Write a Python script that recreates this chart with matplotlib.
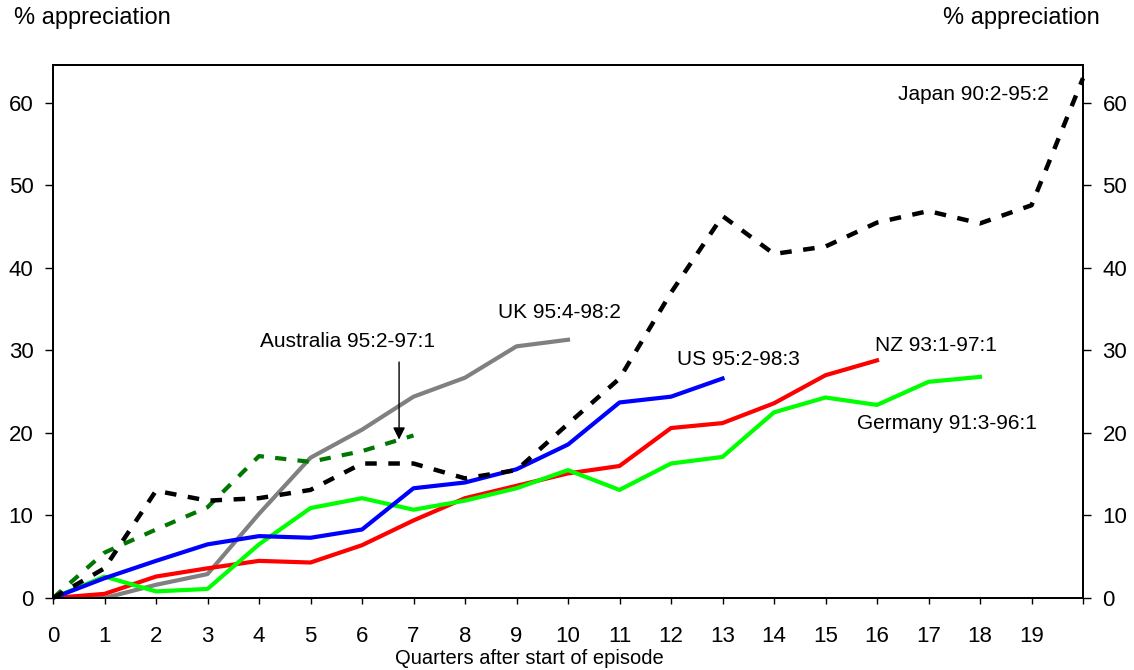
import matplotlib
matplotlib.use("Agg")
import matplotlib.pyplot as plt

plt.rcParams['font.family'] = ['Liberation Sans', 'DejaVu Sans']

quarters_ticks = list(range(0, 20))

japan_q = list(range(0, 21))
japan = [0, 3.6, 13.0, 11.8, 12.1, 13.1, 16.3, 16.3, 14.5, 15.5, 21.1, 26.6, 37.0,
         46.3, 41.7, 42.6, 45.5, 46.9, 45.4, 47.6, 63.0]
australia = [0, 5.5, 8.3, 11.0, 17.2, 16.5, 17.8, 19.7]
uk = [0, 0.0, 1.6, 2.9, 10.2, 17.0, 20.4, 24.4, 26.7, 30.5, 31.3]
us = [0, 2.4, 4.5, 6.5, 7.5, 7.3, 8.3, 13.3, 14.0, 15.6, 18.6, 23.7, 24.4, 26.6]
nz = [0, 0.5, 2.6, 3.6, 4.5, 4.3, 6.4, 9.4, 12.1, 13.6, 15.1, 16.0, 20.6, 21.2,
      23.6, 27.0, 28.8]
germany = [0, 2.6, 0.8, 1.1, 6.5, 10.9, 12.1, 10.7, 11.8, 13.3, 15.5, 13.1, 16.3,
           17.1, 22.5, 24.3, 23.4, 26.2, 26.8]

labels = {
    'japan': 'Japan 90:2-95:2',
    'australia': 'Australia 95:2-97:1',
    'uk': 'UK 95:4-98:2',
    'us': 'US 95:2-98:3',
    'nz': 'NZ 93:1-97:1',
    'germany': 'Germany 91:3-96:1',
}

W, H = 1134, 670
L, R, B, T = 53, 1083, 598, 65
fig = plt.figure(figsize=(W / 100, H / 100), dpi=100)
ax = fig.add_axes([L / W, 1 - B / H, (R - L) / W, (B - T) / H])

ax.plot(range(len(uk)), uk, color='#808080', lw=3.0)
ax.plot(range(len(nz)), nz, color='#ff0000', lw=3.0)
ax.plot(range(len(germany)), germany, color='#00ff00', lw=3.0)
ax.plot(range(len(us)), us, color='#0000ff', lw=3.0)
ax.plot(range(len(australia)), australia, color='#007700', lw=3.0,
        dashes=(2.7, 2.7))
ax.plot(japan_q, japan, color='black', lw=3.2, dashes=(2.6, 2.6), clip_on=False)

ax.set_xlim(0, 20)
ax.set_ylim(0, 64.6)
ax.set_xticks(range(0, 21))
ax.set_xticklabels([str(q) for q in quarters_ticks] + [''], fontsize=16)
ax.set_yticks(range(0, 61, 10))
ax.tick_params(axis='x', direction='out', length=4.5, width=1, pad=16)
ax.tick_params(axis='y', direction='out', length=6, width=1, pad=8, labelsize=16)
for s in ax.spines.values():
    s.set_linewidth(1.3)

ax2 = ax.twinx()
ax2.set_ylim(0, 64.6)
ax2.set_yticks(range(0, 61, 10))
ax2.tick_params(axis='y', direction='out', length=6, width=1, pad=8, labelsize=16)
for s in ax2.spines.values():
    s.set_linewidth(1.3)

fig.text(529 / W, 1 - 659 / H, 'Quarters after start of episode', ha='center',
         va='center', fontsize=14.5)

fs = 15
ax.text(5.72, 31.1, labels['australia'], ha='center', va='center', fontsize=fs)
ax.text(9.83, 34.6, labels['uk'], ha='center', va='center', fontsize=fs)
ax.text(13.31, 28.9, labels['us'], ha='center', va='center', fontsize=fs)
ax.text(17.15, 30.6, labels['nz'], ha='center', va='center', fontsize=fs)
ax.text(17.35, 21.2, labels['germany'], ha='center', va='center', fontsize=fs)
ax.text(17.87, 61.0, labels['japan'], ha='center', va='center', fontsize=fs)

ax.annotate('', xy=(6.72, 19.2), xytext=(6.72, 28.6),
            arrowprops=dict(arrowstyle='-|>', color='black', lw=1.0,
                            mutation_scale=18, shrinkA=0, shrinkB=0))

fig.text(14 / W, 1 - 18 / H, '% appreciation', ha='left', va='center', fontsize=17)
fig.text(1100 / W, 1 - 18 / H, '% appreciation', ha='right', va='center', fontsize=17)

fig.savefig('out.png', dpi=100)
